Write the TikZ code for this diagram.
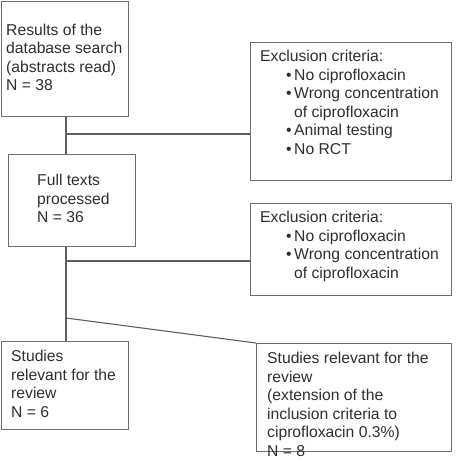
\documentclass[tikz,border=0pt]{standalone}
\usepackage{fontspec}
\setmainfont{Liberation Sans}
\newcommand{\critItem}[1]{\makebox[34pt][r]{\textbullet\kern2.5pt}#1}
\newcommand{\critMore}[1]{\hspace*{34pt}#1}
\begin{document}
\begin{tikzpicture}[x=1pt, y=-1pt,
    box/.style={draw=borderColour, line width=1.1pt, inner sep=0pt, anchor=north west},
    txt/.style={text=textColour, inner sep=0pt, anchor=north west, align=left,
        font=\fontsize{15.7pt}{18.6pt}\selectfont},
    link/.style={draw=linkColour, line width=1.1pt}]
    \definecolor{borderColour}{HTML}{6E6E6E}
    \definecolor{linkColour}{HTML}{5E5E5E}
    \definecolor{textColour}{HTML}{2E2E2E}

    % Fix canvas size
    \useasboundingbox (0,0) rectangle (456,460);

    % Draw boxes
    \node[box, minimum width=127pt, minimum height=115pt] (search) at (1,0.6) {};
    \node[box, minimum width=201pt, minimum height=138pt] (exclA) at (250,42) {};
    \node[box, minimum width=127pt, minimum height=92pt] (full) at (8,154) {};
    \node[box, minimum width=201pt, minimum height=92pt] (exclB) at (250,203) {};
    \node[box, minimum width=127pt, minimum height=88pt] (studies) at (1,341) {};
    \node[box, minimum width=195pt, minimum height=108pt] (extended) at (256,343) {};

    % Box texts
    \node[txt] (searchText) at ([shift={(5,23)}]search.north west)
        {Results of the\\database search\\(abstracts read)\\N = 38};
    \node[txt] (exclAText) at ([shift={(10,8)}]exclA.north west)
        {Exclusion criteria:\\\critItem{No ciprofloxacin}\\\critItem{Wrong concentration}\\
         \critMore{of ciprofloxacin}\\\critItem{Animal testing}\\\critItem{No RCT}};
    \node[txt] (fullText) at ([shift={(29,20)}]full.north west)
        {Full texts\\processed\\N = 36};
    \node[txt] (exclBText) at ([shift={(10,8)}]exclB.north west)
        {Exclusion criteria:\\\critItem{No ciprofloxacin}\\\critItem{Wrong concentration}\\
         \critMore{of ciprofloxacin}};
    \node[txt] (studiesText) at ([shift={(10,9)}]studies.north west)
        {Studies\\relevant for the\\review\\N = 6};
    \node[txt] (extendedText) at ([shift={(11,9)}]extended.north west)
        {Studies relevant for the\\review\\(extension of the\\inclusion criteria to\\ciprofloxacin 0.3\%)\\N = 8};

    % Draw connectors
    \coordinate (splitA) at (66,134);
    \coordinate (splitB) at (66,261);
    \coordinate (splitC) at (66,318);
    \draw[link] (search.south -| splitA) -- (full.north -| splitA);
    \draw[link] (splitA) -- (splitA -| exclA.west);
    \draw[link] (full.south -| splitB) -- (studies.north -| splitB);
    \draw[link] (splitB) -- (splitB -| exclB.west);
    \draw[link] (splitC) -- (extended.north west);

\end{tikzpicture}
\end{document}
